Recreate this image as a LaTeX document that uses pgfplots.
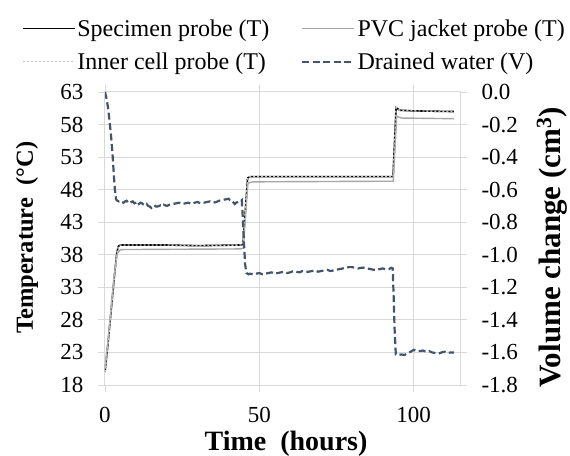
\documentclass[border=0pt]{standalone}
\usepackage{fontspec}
\setmainfont{Liberation Serif}
\usepackage{pgfplots}
\pgfplotsset{compat=1.18}
\definecolor{vblue}{HTML}{44546A}
\definecolor{gridc}{HTML}{D9D9D9}
\definecolor{pvcc}{HTML}{A6A6A6}
\definecolor{innerc}{HTML}{BFBFBF}
\begin{document}
\begin{tikzpicture}
\pgfplotsset{
  base/.style={width=355pt,height=293pt,scale only axis,xmin=0,xmax=115,
    ticklabel style={font=\fontsize{23}{26}\selectfont},
    /pgf/number format/assume math mode=true,
    tick style={gridc,line width=0.8pt},
    axis line style={gridc,line width=1pt},
    tick align=outside, major tick length=7pt},
}
\begin{axis}[base, name=main,
  ymin=18,ymax=63, ytick={18,23,28,33,38,43,48,53,58,63},
  xtick={0,50,100},
  yticklabel style={xshift=-11pt},
  xticklabel style={yshift=-12pt},
  grid=major, major grid style={gridc,line width=1pt},
  xlabel={\textbf{Time~~(hours)}}, xlabel style={font=\fontsize{28}{32}\selectfont, at={(axis description cs:0.51,-0.199)}, anchor=center},
  ylabel={\textbf{Temperature~~(°C)}}, ylabel style={font=\fontsize{24.5}{28}\selectfont, at={(axis description cs:-0.2197,0.502)}, anchor=center},
  legend columns=2,
  legend style={draw=none, fill=none, at={(axis description cs:-0.235,1.255)}, anchor=north west,
    font=\fontsize{24}{28}\selectfont, row sep=11pt, inner sep=0pt,
    /tikz/every even column/.append style={column sep=30pt}},
  legend cell align=left,
  legend image code/.code={\draw[#1] (0pt,0pt) -- (52pt,0pt);},
]
\addplot[black, line width=1.6pt] coordinates {
(0,20) (1,24.5) (2,29.5) (3,34.5) (3.8,38.2) (4.3,39.3) (5,39.5) (20,39.5) (30,39.4) (44,39.5) (44.7,39.6)
(46.2,49.8) (47,50.0) (70,50.0) (93.3,50.0) (94.3,60.6) (95.5,60.2) (100,60.1) (113,60.0)};
\addlegendentry{Specimen probe (T)}
\addplot[pvcc, line width=1.4pt] coordinates {
(0,20.5) (1,25) (2,30) (3,35) (4,38.2) (5,38.8) (44,38.9) (44.8,39.0)
(46.3,49.0) (48,49.2) (93.4,49.3) (94.5,59.3) (96,59.0) (113,58.9)};
\addlegendentry{PVC jacket probe (T)}
\addplot[innerc, line width=1.4pt, dash pattern=on 2pt off 2pt] coordinates {
(0,20) (1,24.5) (2,29.5) (3,34.5) (3.8,38.2) (4.3,39.3) (5,39.5) (20,39.5) (30,39.4) (44,39.5) (44.7,39.6)
(46.2,49.8) (47,50.0) (70,50.0) (93.3,50.0) (94.3,60.6) (95.5,60.2) (100,60.1) (113,60.0)};
\addlegendentry{Inner cell probe (T)}
\addlegendimage{vblue, line width=2.2pt, dash pattern=on 7pt off 3.5pt}
\addlegendentry{Drained water (V)}
\end{axis}
\begin{axis}[base,
  axis x line=none, axis y line*=right,
  ymin=-1.8,ymax=0, ytick={-1.8,-1.6,-1.4,-1.2,-1.0,-0.8,-0.6,-0.4,-0.2,0},
  yticklabel style={xshift=11pt,/pgf/number format/.cd,fixed,fixed zerofill,precision=1},
  ylabel={\textbf{Volume change (cm\textsuperscript{3})}}, ylabel style={font=\fontsize{31}{34}\selectfont, at={(axis description cs:1.259,0.47)}, anchor=center},
]
\addplot[vblue, line width=2.2pt, dash pattern=on 7pt off 3.5pt] coordinates {
(0,0) (0.5,-0.04) (1,-0.10) (1.6,-0.20) (2.1,-0.30) (2.5,-0.40) (2.9,-0.52) (3.2,-0.60) (3.6,-0.66) (4,-0.668)
(4.5,-0.672) (5,-0.668) (5.5,-0.676) (6,-0.68) (6.5,-0.672) (7,-0.668) (7.5,-0.68) (8,-0.684) (8.5,-0.676) (9,-0.672) (9.5,-0.684) (10,-0.68)
(10.5,-0.672) (11,-0.688) (11.5,-0.68) (12,-0.684) (12.5,-0.692)
(13,-0.696) (13.5,-0.688) (14,-0.70) (14.5,-0.704) (15,-0.712) (15.5,-0.70) (16,-0.696) (16.5,-0.704) (17,-0.704) (17.5,-0.70) (18,-0.696) (18.5,-0.70) (19,-0.692) (19.5,-0.696) (20,-0.70)
(21,-0.692) (22,-0.688) (23,-0.684) (24,-0.68) (25,-0.688) (26,-0.684) (27,-0.68) (28,-0.688) (29,-0.68) (30,-0.676) (31,-0.684) (32,-0.68) (33,-0.676) (34,-0.672) (35,-0.68) (36,-0.676)
(37,-0.668) (38,-0.664) (39,-0.66) (40,-0.656) (40.5,-0.664) (41,-0.664) (41.5,-0.676) (42,-0.688) (42.5,-0.68) (43,-0.676) (43.5,-0.672) (44,-0.668) (44.3,-0.664)
(44.6,-0.76) (45,-0.92) (45.4,-1.06) (45.8,-1.112) (46.5,-1.12) (47,-1.116) (48,-1.12) (49,-1.116) (50,-1.112) (51,-1.12) (52,-1.116) (53,-1.112) (54,-1.108)
(55,-1.116) (56,-1.112) (57,-1.108) (58,-1.104) (59,-1.112) (60,-1.108) (61,-1.10) (62,-1.104) (63,-1.108) (64,-1.10) (65,-1.104) (66,-1.104) (67,-1.10) (68,-1.096) (69,-1.104) (70,-1.10)
(71,-1.096) (72,-1.092) (73,-1.10) (74,-1.096) (75,-1.092) (76,-1.088) (77,-1.084) (78,-1.08) (79,-1.076) (80,-1.076) (81,-1.08) (82,-1.084) (83,-1.08) (84,-1.08) (85,-1.084) (86,-1.088)
(87,-1.092) (88,-1.092) (89,-1.088) (90,-1.084) (91,-1.09) (92,-1.088) (92.7,-1.08) (93.2,-1.084) (93.5,-1.25) (93.8,-1.45) (94.2,-1.612)
(95,-1.616) (96,-1.612) (97,-1.616) (98,-1.604) (99,-1.596) (100,-1.584) (101,-1.592) (102,-1.592) (103,-1.588) (104,-1.596) (105,-1.592) (106,-1.60) (107,-1.604) (108,-1.608) (109,-1.60) (110,-1.596) (111,-1.604) (112,-1.60) (113,-1.60)};
\end{axis}
\pgfresetboundingbox
\path ([xshift=-105pt,yshift=-70pt]main.south west) rectangle ([xshift=110pt,yshift=92pt]main.north east);
\end{tikzpicture}
\end{document}
